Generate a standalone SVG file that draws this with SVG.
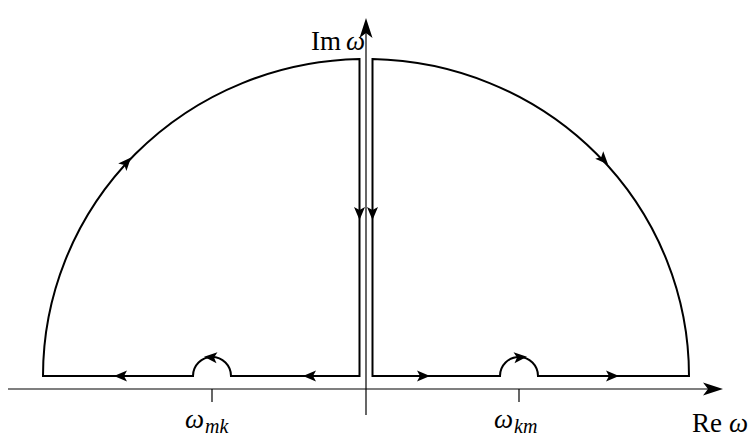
<svg xmlns="http://www.w3.org/2000/svg" xmlns:xlink="http://www.w3.org/1999/xlink" width="753" height="446" viewBox="0 0 753 446">
<style>
.ax{stroke:#000;stroke-width:1.2;fill:none}
.ct{stroke:#000;stroke-width:2;fill:none;stroke-linejoin:miter}
.ah{fill:#000;stroke:none}
.lbl{font-family:"Liberation Serif",serif;font-size:27px;fill:#000}
.it{font-style:italic}
.sub{font-family:"Liberation Serif",serif;font-size:20px;font-style:italic;fill:#000}
</style>
<defs>
<path id="ah" d="M6,0 L-7,-5.5 L-4,0 L-7,5.5 Z"/>
<path id="axh" d="M10,0 L-10,-6.5 L-5,0 L-10,6.5 Z"/>
</defs>
<g id="axes">
<line class="ax" x1="8" y1="389" x2="718" y2="389"/>
<line class="ax" x1="366" y1="415" x2="366" y2="24"/>
<use href="#axh" class="ah" transform="translate(713,389)"/>
<use href="#axh" class="ah" transform="translate(366,28) rotate(-90)"/>
<line class="ax" x1="212" y1="389" x2="212" y2="402"/>
<line class="ax" x1="519" y1="389" x2="519" y2="402"/>
</g>
<g id="left-contour">
<path class="ct" d="M359.5,376 L231,376 A19,19 0 0 0 193,376 L43,376 L43,376 A323,317 0 0 1 359.5,59 Z"/>
</g>
<g id="right-contour">
<path class="ct" d="M372.5,376 L500,376 A19,19 0 0 1 538,376 L689,376 A323,317 0 0 0 372.5,59 Z"/>
</g>
<g id="connectors">
<use href="#ah" class="ah" transform="translate(120,376) rotate(180)"/>
<use href="#ah" class="ah" transform="translate(309,376) rotate(180)"/>
<use href="#ah" class="ah" transform="translate(424,376)"/>
<use href="#ah" class="ah" transform="translate(613,376)"/>
<use href="#ah" class="ah" transform="translate(359.5,214) rotate(90)"/>
<use href="#ah" class="ah" transform="translate(372.5,214) rotate(90)"/>
<use href="#ah" class="ah" transform="translate(127,162) rotate(-48)"/>
<use href="#ah" class="ah" transform="translate(604,160) rotate(47)"/>
<use href="#ah" class="ah" transform="translate(210,357.2) rotate(185)"/>
<use href="#ah" class="ah" transform="translate(521,357.2) rotate(-5)"/>
</g>
<g id="labels">
<text class="lbl" x="311" y="50">Im</text>
<text class="lbl it" x="346" y="50">ω</text>
<text class="lbl" x="692" y="432">Re</text>
<text class="lbl it" x="729" y="432">ω</text>
<text class="lbl it" x="185" y="428">ω</text>
<text class="sub" x="205" y="433">mk</text>
<text class="lbl it" x="494" y="428">ω</text>
<text class="sub" x="514" y="433">km</text>
</g>
</svg>
